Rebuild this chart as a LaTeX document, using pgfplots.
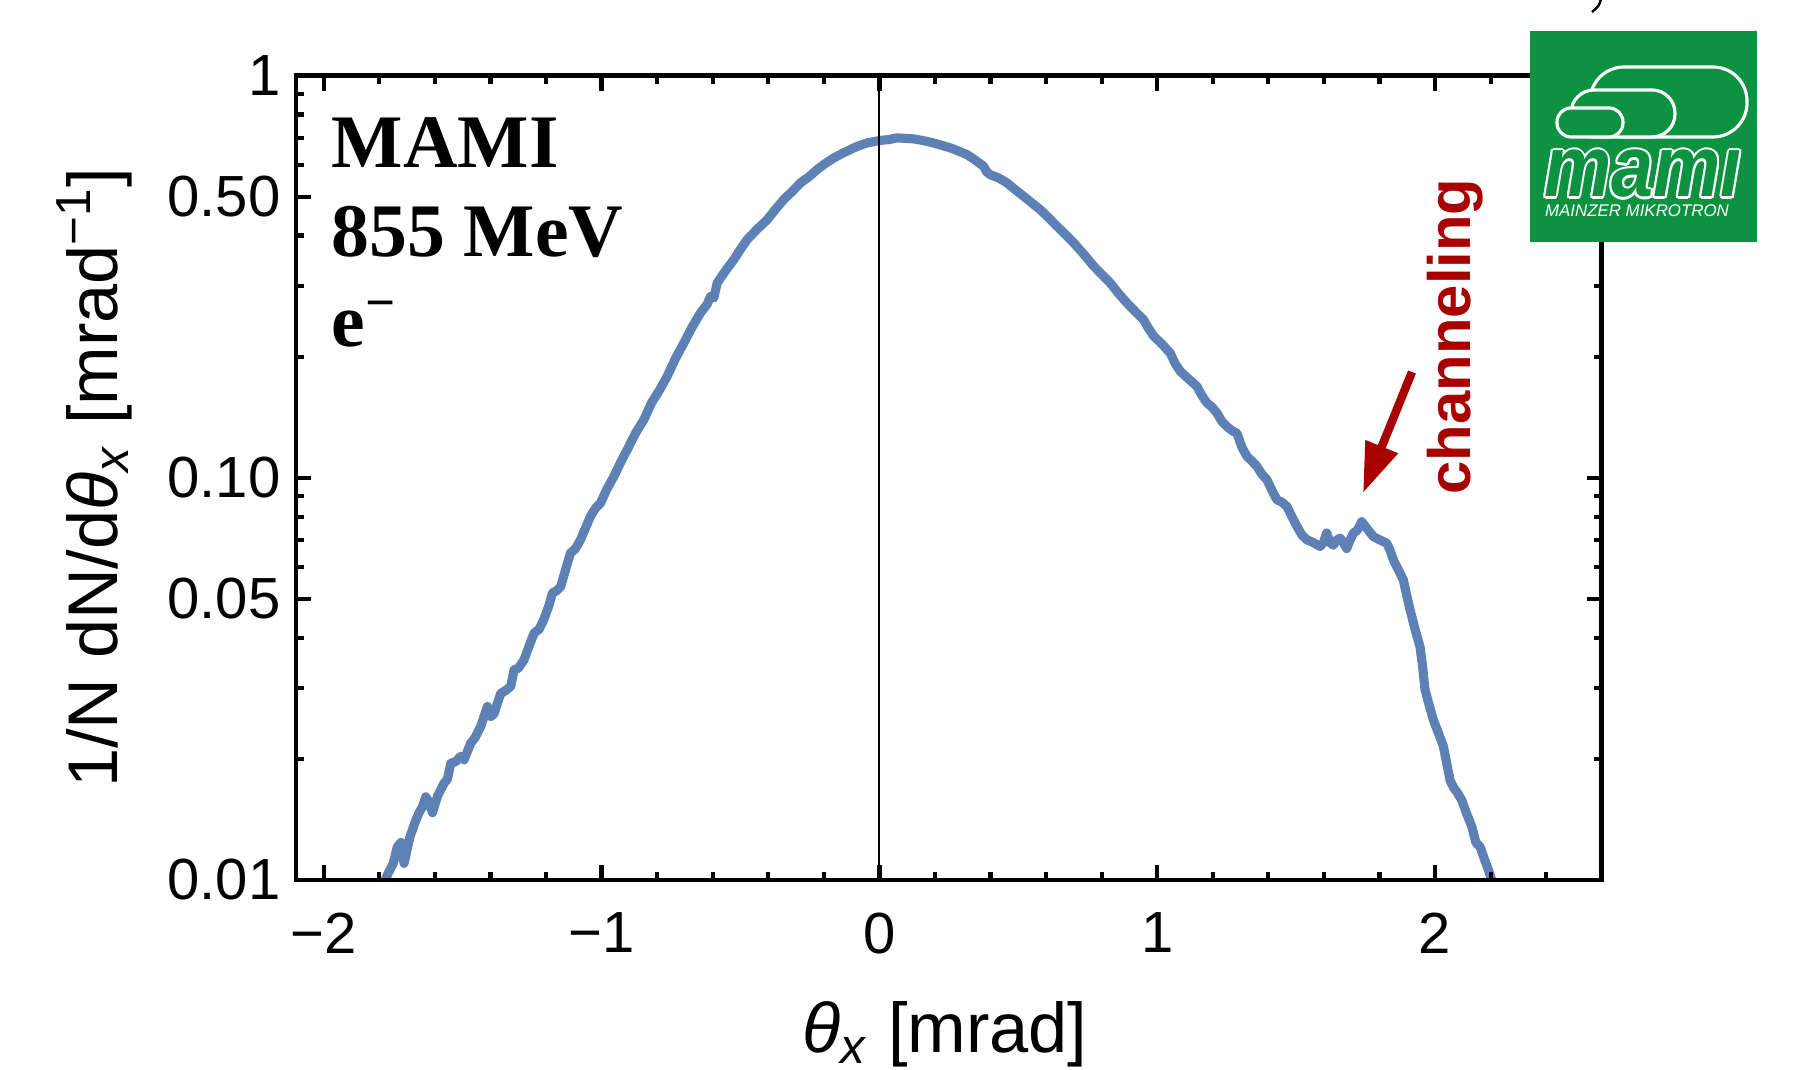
\documentclass[border=0pt]{standalone}
\usepackage{fontspec}
\setmainfont{Liberation Sans}
\newfontfamily\timesfont{Liberation Serif}
\usepackage{pgfplots}
\pgfplotsset{compat=1.18}
\usetikzlibrary{arrows.meta}

\definecolor{mmablue}{RGB}{94,129,181}
\definecolor{chred}{RGB}{168,0,0}
\definecolor{mamigreen}{RGB}{12,146,64}

\begin{document}
\begin{tikzpicture}
\begin{axis}[
    at={(0,0)}, anchor=south west,
    scale only axis, width=13.05cm, height=8.04cm,
    ymode=log,
    xmin=-2.1, xmax=2.6, ymin=0.01, ymax=1,
    xtick={-2,-1,0,1,2}, xticklabels={−2,−1,0,1,2},
    minor xtick={-1.8,-1.6,-1.4,-1.2,-0.8,-0.6,-0.4,-0.2,0.2,0.4,0.6,0.8,1.2,1.4,1.6,1.8,2.2,2.4},
    ytick={0.01,0.05,0.1,0.5,1}, yticklabels={0.01,0.05,0.10,0.50,1},
    minor ytick={0.02,0.03,0.04,0.06,0.07,0.08,0.09,0.2,0.3,0.4,0.6,0.7,0.8,0.9},
    tick align=inside, tick pos=both,
    xticklabel pos=lower, yticklabel pos=left,
    major tick length=0.15cm, minor tick length=0.08cm,
    tick style={black, line width=1.2pt},
    axis line style={black, line width=1.4pt},
    axis on top,
    ticklabel style={font=\fontsize{16.5}{19}\selectfont},
    xticklabel style={inner sep=0pt, yshift=-0.32cm},
    yticklabel style={inner sep=0pt, xshift=-0.15cm},
    xlabel={\textit{θ}\textsubscript{\textit{x}} [mrad]},
    ylabel={1/N dN/d\textit{θ}\textsubscript{\textit{x}} [mrad\textsuperscript{−1}]},
    label style={font=\fontsize{20}{24}\selectfont},
    xlabel style={at={(axis description cs:0.497,-0.215)}, anchor=base},
    ylabel style={at={(axis description cs:-0.137,0.5)}, anchor=base},
]
% measured angular distribution
\addplot[color=mmablue, line width=2.6pt, line join=round, no marks] table {
-1.800 0.0092
-1.771 0.0103
-1.750 0.0110
-1.735 0.0121
-1.722 0.0124
-1.711 0.0110
-1.690 0.0128
-1.670 0.0140
-1.657 0.0147
-1.645 0.0152
-1.633 0.0161
-1.620 0.0156
-1.609 0.0147
-1.590 0.0162
-1.567 0.0174
-1.555 0.0178
-1.543 0.0195
-1.525 0.0197
-1.507 0.0203
-1.495 0.0199
-1.471 0.0219
-1.455 0.0226
-1.435 0.0241
-1.411 0.0270
-1.399 0.0255
-1.387 0.0259
-1.375 0.0275
-1.363 0.0291
-1.345 0.0296
-1.327 0.0303
-1.315 0.0333
-1.300 0.0336
-1.279 0.0353
-1.262 0.0380
-1.243 0.0411
-1.225 0.0420
-1.208 0.0444
-1.190 0.0480
-1.177 0.0517
-1.160 0.0525
-1.147 0.0537
-1.130 0.0590
-1.112 0.0650
-1.095 0.0665
-1.076 0.0701
-1.058 0.0750
-1.040 0.0802
-1.022 0.0840
-1.004 0.0865
-0.980 0.0940
-0.956 0.1007
-0.932 0.1090
-0.908 0.1174
-0.878 0.1290
-0.848 0.1394
-0.820 0.1537
-0.792 0.1650
-0.764 0.1787
-0.734 0.1980
-0.704 0.2163
-0.674 0.2370
-0.644 0.2570
-0.620 0.2700
-0.608 0.2825
-0.596 0.2800
-0.584 0.3050
-0.554 0.3270
-0.524 0.3487
-0.500 0.3700
-0.476 0.3910
-0.440 0.4150
-0.404 0.4380
-0.374 0.4650
-0.344 0.4920
-0.314 0.5150
-0.284 0.5410
-0.254 0.5600
-0.224 0.5840
-0.194 0.6050
-0.164 0.6240
-0.134 0.6400
-0.104 0.6550
-0.074 0.6690
-0.044 0.6800
-0.020 0.6850
0.004 0.6900
0.034 0.6930
0.064 0.7000
0.094 0.6980
0.123 0.6960
0.153 0.6900
0.183 0.6830
0.220 0.6720
0.255 0.6610
0.285 0.6490
0.315 0.6360
0.345 0.6160
0.375 0.5950
0.387 0.5750
0.399 0.5670
0.430 0.5560
0.459 0.5410
0.489 0.5200
0.519 0.5010
0.549 0.4820
0.579 0.4640
0.609 0.4430
0.639 0.4220
0.669 0.4030
0.699 0.3840
0.735 0.3600
0.771 0.3360
0.801 0.3200
0.831 0.3050
0.861 0.2870
0.891 0.2720
0.921 0.2590
0.951 0.2470
0.969 0.2350
0.987 0.2250
1.017 0.2150
1.047 0.2040
1.065 0.1920
1.083 0.1840
1.113 0.1760
1.143 0.1687
1.161 0.1600
1.179 0.1534
1.197 0.1500
1.215 0.1448
1.233 0.1380
1.251 0.1340
1.269 0.1310
1.287 0.1290
1.305 0.1190
1.323 0.1130
1.341 0.1100
1.359 0.1067
1.377 0.1020
1.395 0.0989
1.413 0.0930
1.431 0.0881
1.449 0.0870
1.467 0.0848
1.485 0.0800
1.503 0.0757
1.521 0.0720
1.539 0.0701
1.562 0.0690
1.586 0.0675
1.598 0.0690
1.610 0.0729
1.622 0.0690
1.634 0.0680
1.646 0.0700
1.658 0.0708
1.670 0.0690
1.682 0.0667
1.694 0.0700
1.706 0.0729
1.720 0.0740
1.736 0.0778
1.757 0.0745
1.778 0.0714
1.802 0.0700
1.826 0.0688
1.838 0.0660
1.850 0.0625
1.868 0.0590
1.886 0.0557
1.898 0.0510
1.910 0.0470
1.928 0.0420
1.946 0.0380
1.955 0.0340
1.964 0.0297
1.979 0.0272
1.994 0.0250
2.012 0.0232
2.030 0.0215
2.042 0.0195
2.054 0.0177
2.066 0.0170
2.080 0.0165
2.096 0.0158
2.114 0.0146
2.132 0.0136
2.147 0.0124
2.162 0.0121
2.177 0.0113
2.192 0.0106
2.204 0.0100
2.215 0.0094
};
\draw[black, line width=0.55pt] (axis cs:0,0.01) -- (axis cs:0,1);
\end{axis}

% annotations, in pixel units of the 1799x1070 reference
\begin{scope}[x=0.01cm, y=-0.01cm, shift={(-296,-880)}]
  \node[anchor=base west, inner sep=0pt, font=\timesfont\bfseries\fontsize{21.5}{24}\selectfont] at (331,168) {MAMI};
  \node[anchor=base west, inner sep=0pt, font=\timesfont\bfseries\fontsize{21.5}{24}\selectfont] at (331,257) {855 MeV};
  \node[anchor=base west, inner sep=0pt, font=\timesfont\bfseries\fontsize{21.5}{24}\selectfont] at (331,347) {e\textsuperscript{−}};

  % channeling arrow and label
  \draw[chred, line width=2.4pt, -{Triangle[length=0.5cm, width=0.33cm]}] (1412,372) -- (1363,493);
  \node[chred, rotate=90, anchor=base west, inner sep=0pt, font=\bfseries\fontsize{17}{20}\selectfont] at (1470,495) {channeling};

  % MAMI logo
  \fill[mamigreen] (1530,31) rectangle (1757,242);
  \draw[white, fill=mamigreen, line width=0.9pt, rounded corners=0.34cm] (1590,67) rectangle (1747,137);
  \draw[white, fill=mamigreen, line width=0.9pt, rounded corners=0.23cm] (1571,90) rectangle (1675,137);
  \draw[white, fill=mamigreen, line width=0.9pt, rounded corners=0.14cm] (1557,108) rectangle (1623,137);
  \foreach \a in {0,30,...,330}
    \node[white, anchor=base, inner sep=0pt, xscale=0.87, shift={(\a:2.2)},
          font=\bfseries\itshape\fontsize{24.7}{26}\selectfont] at (1643,197) {mamı};
  \node[mamigreen, anchor=base, inner sep=0pt, xscale=0.87,
        font=\bfseries\itshape\fontsize{24.7}{26}\selectfont] at (1643,197) {mamı};
  \node[white, anchor=base, inner sep=0pt, font=\itshape\fontsize{4.8}{5}\selectfont] at (1637,217) {MAINZER MIKROTRON};

  \draw[black, line width=0.7pt] (1601,-1) .. controls (1599,6) .. (1592,12);

  \pgfresetboundingbox
  \path (0,0) rectangle (1799,1070);
\end{scope}
\end{tikzpicture}
\end{document}
